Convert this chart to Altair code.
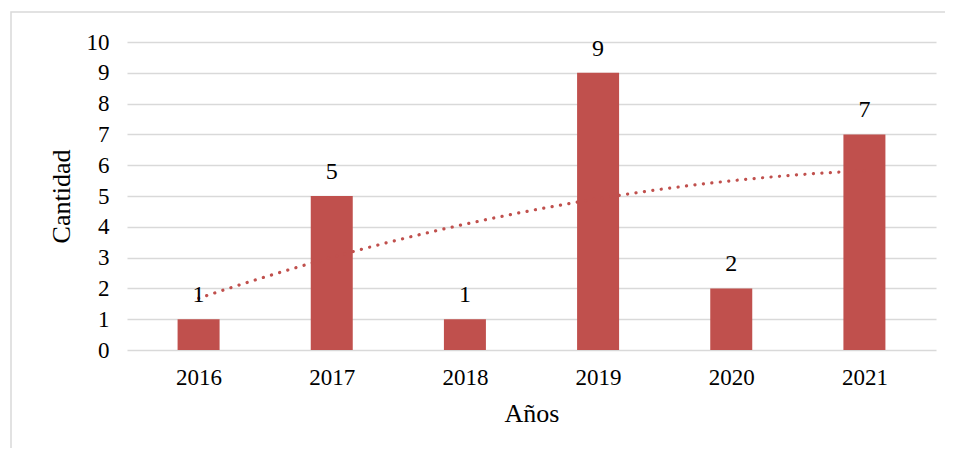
import altair as alt
import pandas as pd

years = [2016, 2017, 2018, 2019, 2020, 2021]
counts = [1, 5, 1, 9, 2, 7]
y_ticks = list(range(0, 11))

df = pd.DataFrame({"year": years, "count": counts})

FONT = "Liberation Serif"
RED = "#C0504D"
W, H = 809, 308

x_enc = alt.X(
    "year:Q",
    scale=alt.Scale(domain=[2015.5, 2021.5], nice=False, zero=False),
    axis=alt.Axis(values=years, tickCount=20, format="d", title="Años", grid=False, ticks=False,
                  domain=False, labelPadding=16, titlePadding=11, labelOverlap=False,
                  labelFlush=False),
)
y_enc = alt.Y(
    "count:Q",
    scale=alt.Scale(domain=[0, 10], nice=False),
    axis=alt.Axis(values=y_ticks, tickCount=20, format="d", title="Cantidad", ticks=False,
                  domain=False, labelPadding=18, titlePadding=12, gridColor="#d9d9d9",
                  gridWidth=1.6, labelOverlap=False, labelFlush=False),
)

base = alt.Chart(df)

bars = base.mark_bar(size=42, color=RED).encode(x=x_enc, y=y_enc)

labels = base.mark_text(baseline="bottom", dy=-12, font=FONT, fontSize=24, color="#000000").encode(
    x=x_enc, y=y_enc, text="count:Q"
)

trend = base.transform_regression("year", "count", method="poly", order=2).mark_line(
    color=RED, strokeWidth=3.2, strokeDash=[0.1, 8.4], strokeCap="round"
).encode(x=x_enc, y=y_enc)

border = alt.Chart(pd.DataFrame({"a": [0]})).mark_rect(
    fill=None, stroke="#d9d9d9", strokeWidth=1.5
).encode(x=alt.value(-116), x2=alt.value(823), y=alt.value(-30), y2=alt.value(440))

chart = (
    alt.layer(border, bars, trend, labels)
    .properties(
        width=W,
        height=H,
        autosize=alt.AutoSizeParams(type="none"),
        padding={"left": 119, "top": 34, "right": 9, "bottom": 98},
    )
    .configure_view(stroke=None)
    .configure_axis(
        labelFont=FONT, titleFont=FONT, labelFontSize=23, titleFontSize=26,
        labelColor="#000000", titleColor="#000000", titleFontWeight="normal",
    )
)

chart.save("out.html", embed_options={"renderer": "svg", "actions": False})
